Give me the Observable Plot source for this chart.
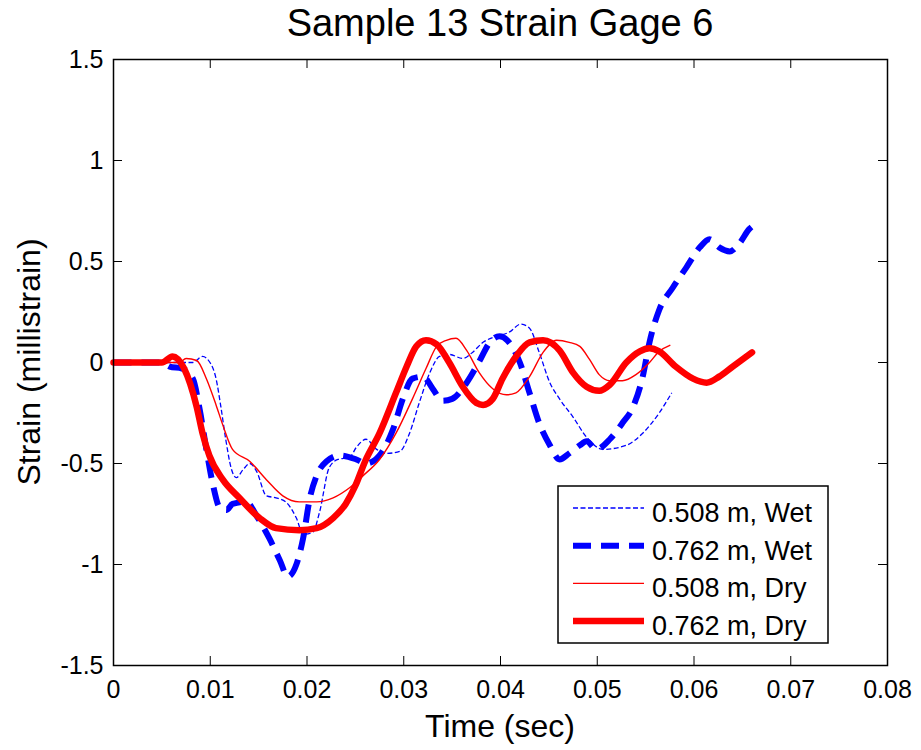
<!DOCTYPE html>
<html><head><meta charset="utf-8">
<script src="https://cdn.jsdelivr.net/npm/d3@7"></script>
<script src="https://cdn.jsdelivr.net/npm/@observablehq/plot@0.6"></script>
<style>body{margin:0;background:#fff} #chart{width:921px;height:750px}</style>
</head><body><div id="chart"></div>
<script>
const titleText = "Sample 13 Strain Gage 6";
const xLabel = "Time (sec)";
const yLabel = "Strain (millistrain)";
const seriesNames = ["0.508 m, Wet", "0.762 m, Wet", "0.508 m, Dry", "0.762 m, Dry"];
const xTicks = [0, 0.01, 0.02, 0.03, 0.04, 0.05, 0.06, 0.07, 0.08];
const xTickLabels = ["0", "0.01", "0.02", "0.03", "0.04", "0.05", "0.06", "0.07", "0.08"];
const yTicks = [-1.5, -1, -0.5, 0, 0.5, 1, 1.5];
const yTickLabels = ["-1.5", "-1", "-0.5", "0", "0.5", "1", "1.5"];

// 0.508 m, Wet
const wet508T = [0, 0.0082, 0.0092, 0.0099, 0.0106, 0.0111, 0.0116, 0.0122, 0.0127, 0.0134, 0.0141, 0.0148, 0.0158, 0.0168, 0.0178, 0.0189, 0.0196, 0.0206, 0.0213, 0.0223, 0.0232, 0.0244, 0.0251, 0.0261, 0.0272, 0.0282, 0.0296, 0.0306, 0.0316, 0.0327, 0.0337, 0.0347, 0.0361, 0.0371, 0.0382, 0.0396, 0.0409, 0.0421, 0.0430, 0.0440, 0.0451, 0.0461, 0.0475, 0.0489, 0.0506, 0.0530, 0.0547, 0.0564, 0.0577];
const wet508V = [0, 0, 0.03, 0.005, -0.08, -0.22, -0.38, -0.53, -0.57, -0.53, -0.50, -0.54, -0.66, -0.67, -0.69, -0.77, -0.85, -0.84, -0.74, -0.52, -0.48, -0.47, -0.42, -0.38, -0.43, -0.45, -0.44, -0.35, -0.20, -0.05, 0.03, 0.04, 0.02, 0.05, 0.10, 0.13, 0.15, 0.19, 0.17, 0.05, -0.10, -0.18, -0.27, -0.37, -0.43, -0.41, -0.35, -0.25, -0.15];

// 0.762 m, Wet
const wet762T = [0, 0.0050, 0.0058, 0.0071, 0.0082, 0.0089, 0.0096, 0.0103, 0.0110, 0.0117, 0.0123, 0.0137, 0.0148, 0.0161, 0.0172, 0.0180, 0.0189, 0.0196, 0.0203, 0.0210, 0.0220, 0.0234, 0.0251, 0.0261, 0.0275, 0.0289, 0.0299, 0.0309, 0.0320, 0.0330, 0.0340, 0.0350, 0.0365, 0.0378, 0.0389, 0.0399, 0.0407, 0.0420, 0.0430, 0.0440, 0.0451, 0.0461, 0.0471, 0.0482, 0.0489, 0.0499, 0.0513, 0.0526, 0.0537, 0.0547, 0.0554, 0.0564, 0.0578, 0.0592, 0.0606, 0.0616, 0.0626, 0.0637, 0.0647, 0.0657, 0.0662];
const wet762V = [0, 0, -0.02, -0.03, -0.08, -0.23, -0.43, -0.61, -0.72, -0.73, -0.70, -0.69, -0.76, -0.87, -0.98, -1.06, -1.00, -0.87, -0.67, -0.56, -0.49, -0.46, -0.48, -0.50, -0.46, -0.33, -0.18, -0.08, -0.07, -0.13, -0.19, -0.18, -0.10, 0.005, 0.10, 0.13, 0.11, 0.0, -0.15, -0.30, -0.41, -0.48, -0.45, -0.41, -0.39, -0.43, -0.38, -0.30, -0.22, -0.07, 0.10, 0.26, 0.37, 0.47, 0.57, 0.61, 0.57, 0.55, 0.59, 0.66, 0.68];

// 0.508 m, Dry
const dry508T = [0, 0.0068, 0.0075, 0.0086, 0.0096, 0.0106, 0.0113, 0.0123, 0.0141, 0.0158, 0.0175, 0.0192, 0.0210, 0.0227, 0.0244, 0.0258, 0.0275, 0.0292, 0.0309, 0.0323, 0.0334, 0.0344, 0.0354, 0.0365, 0.0378, 0.0392, 0.0406, 0.0416, 0.0430, 0.0444, 0.0458, 0.0471, 0.0482, 0.0492, 0.0502, 0.0513, 0.0526, 0.0540, 0.0554, 0.0564, 0.0575];
const dry508V = [0, 0, 0.02, 0.01, -0.08, -0.21, -0.31, -0.43, -0.49, -0.58, -0.66, -0.69, -0.69, -0.67, -0.62, -0.56, -0.48, -0.35, -0.18, -0.03, 0.08, 0.11, 0.12, 0.06, -0.05, -0.13, -0.16, -0.15, -0.07, 0.05, 0.11, 0.10, 0.08, 0.015, -0.06, -0.09, -0.09, -0.06, 0.0, 0.055, 0.085];

// 0.762 m, Dry
const dry762T = [0, 0.0050, 0.0061, 0.0073, 0.0086, 0.0092, 0.0099, 0.0113, 0.0130, 0.0151, 0.0168, 0.0192, 0.0210, 0.0227, 0.0240, 0.0250, 0.0260, 0.0275, 0.0292, 0.0303, 0.0313, 0.0323, 0.0334, 0.0347, 0.0361, 0.0375, 0.0382, 0.0392, 0.0402, 0.0416, 0.0430, 0.0444, 0.0461, 0.0475, 0.0489, 0.0502, 0.0513, 0.0530, 0.0544, 0.0554, 0.0564, 0.0581, 0.0599, 0.0613, 0.0626, 0.0640, 0.0660];
const dry762V = [0, 0, 0.03, -0.03, -0.22, -0.35, -0.46, -0.58, -0.67, -0.77, -0.82, -0.83, -0.82, -0.77, -0.70, -0.61, -0.49, -0.35, -0.15, -0.02, 0.08, 0.11, 0.09, 0.0, -0.12, -0.20, -0.21, -0.18, -0.08, 0.03, 0.10, 0.11, 0.06, -0.05, -0.12, -0.14, -0.11, 0.0, 0.055, 0.07, 0.055, -0.02, -0.08, -0.10, -0.07, -0.02, 0.05];

const toRows = (ts, vs) => ts.map((t, i) => ({t, v: vs[i]}));
const styles = [
  {stroke: "#0000ff", strokeWidth: 1.3, dash: "5,2.5"},
  {stroke: "#0000ff", strokeWidth: 6, dash: "18,10"},
  {stroke: "#ff0000", strokeWidth: 1.4, dash: null},
  {stroke: "#ff0000", strokeWidth: 6.5, dash: null}
];
const data = [toRows(wet508T, wet508V), toRows(wet762T, wet762V), toRows(dry508T, dry508V), toRows(dry762T, dry762V)];

const W = 921, H = 750, mL = 113, mR = 34, mT = 59, mB = 85;
const fw = W - mL - mR, fh = H - mT - mB;
const font = "'Liberation Sans', Arial, Helvetica, sans-serif";

const lineMarks = data.map((rows, k) => Plot.line(rows, {
  x: "t", y: "v", curve: "monotone-x",
  stroke: styles[k].stroke, strokeWidth: styles[k].strokeWidth,
  strokeDasharray: styles[k].dash || undefined,
  strokeLinecap: styles[k].dash ? "butt" : "round",
  strokeLinejoin: "round"
}));

const chart = Plot.plot({
  width: W, height: H,
  marginLeft: mL, marginRight: mR, marginTop: mT, marginBottom: mB,
  style: {fontFamily: font, fontSize: "25px", background: "white", color: "black", overflow: "visible"},
  x: {domain: [0, 0.08]},
  y: {domain: [-1.5, 1.5]},
  marks: [
    Plot.axisX(xTicks, {anchor: "bottom", tickSize: 0, tickPadding: 15, fontSize: 25,
      tickFormat: d => xTickLabels[xTicks.indexOf(d)], label: null}),
    Plot.axisY(yTicks, {anchor: "left", tickSize: 0, tickPadding: 10, fontSize: 25,
      tickFormat: d => yTickLabels[yTicks.indexOf(d)], label: null}),
    Plot.tickX(xTicks, {x: d => d, insetTop: fh - 9, stroke: "black", strokeWidth: 1}),
    Plot.tickX(xTicks, {x: d => d, insetBottom: fh - 9, stroke: "black", strokeWidth: 1}),
    Plot.tickY(yTicks, {y: d => d, insetRight: fw - 9, stroke: "black", strokeWidth: 1}),
    Plot.tickY(yTicks, {y: d => d, insetLeft: fw - 9, stroke: "black", strokeWidth: 1}),
    ...lineMarks,
    Plot.frame({stroke: "black", strokeWidth: 1.5})
  ]
});
document.getElementById("chart").appendChild(chart);

const svg = d3.select(chart);
svg.append("text").attr("x", 500).attr("y", 36).attr("text-anchor", "middle")
  .style("font-family", font).style("font-size", "38px").attr("fill", "black").text(titleText);
svg.append("text").attr("x", 500).attr("y", 737).attr("text-anchor", "middle")
  .style("font-family", font).style("font-size", "32px").attr("fill", "black").text(xLabel);
svg.append("text").attr("transform", "translate(40,362) rotate(-90)").attr("text-anchor", "middle")
  .style("font-family", font).style("font-size", "32px").attr("fill", "black").text(yLabel);

// legend
const lg = svg.append("g");
lg.append("rect").attr("x", 558).attr("y", 486).attr("width", 270).attr("height", 157)
  .attr("fill", "white").attr("stroke", "black").attr("stroke-width", 1.5);
seriesNames.forEach((name, k) => {
  const yy = 508 + k * 37.7;
  const s = styles[k];
  lg.append("line").attr("x1", 573).attr("x2", 644).attr("y1", yy).attr("y2", yy)
    .attr("stroke", s.stroke).attr("stroke-width", s.strokeWidth)
    .attr("stroke-dasharray", s.dash);
  lg.append("text").attr("x", 652).attr("y", yy + 14).attr("text-anchor", "start")
    .style("font-family", font).style("font-size", "27px").attr("fill", "black").text(name);
});
</script>
</body></html>
